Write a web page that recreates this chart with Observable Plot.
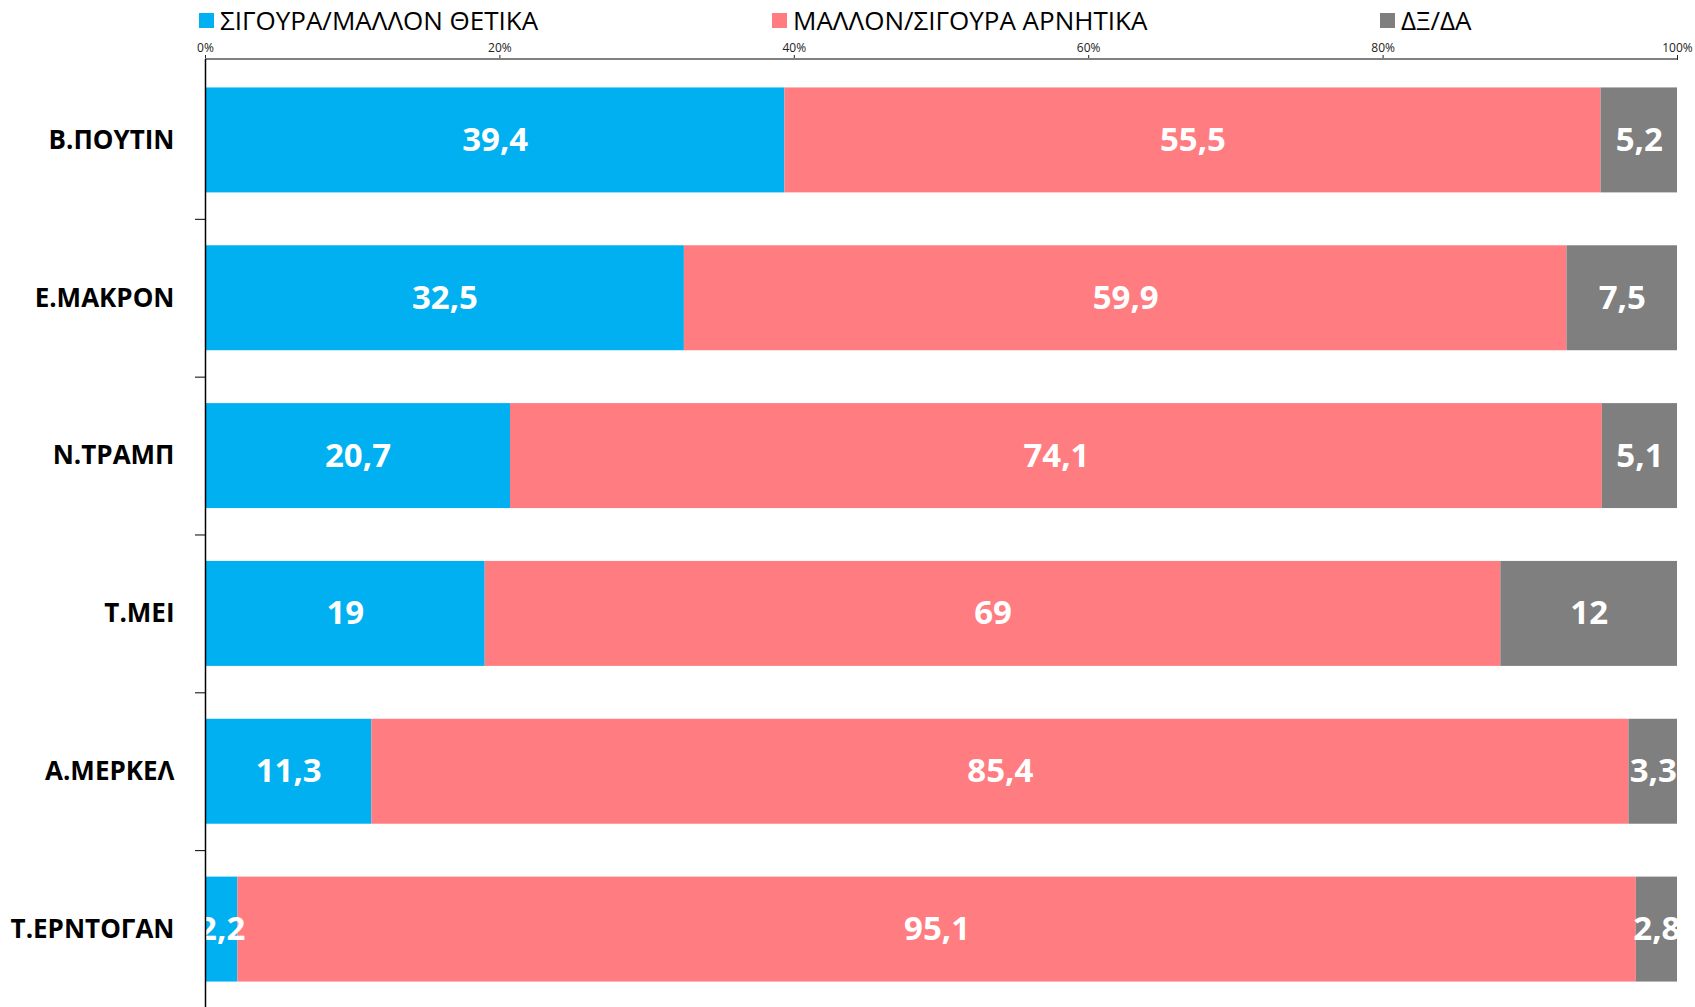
<!DOCTYPE html>
<html>
<head>
<meta charset="utf-8">
<script src="https://cdn.jsdelivr.net/npm/d3@7"></script>
<script src="https://cdn.jsdelivr.net/npm/@observablehq/plot@0.6"></script>
<style>
  html, body { margin: 0; padding: 0; background: #fff; overflow: hidden; }
  #wrap { position: relative; width: 1695px; height: 1007px; font-family: "Open Sans", sans-serif; }
  .leg { position: absolute; top: 4px; height: 32px; display: flex; align-items: center; font-size: 26px; color: #000; white-space: nowrap; }
  .leg span.sw { display: inline-block; width: 15px; height: 15px; margin-right: 6px; }
  #chart { position: absolute; top: 0; left: 0; }
</style>
</head>
<body>
<div id="wrap">
  <div id="chart"></div>
  <div id="legend"></div>
</div>
<script>
const names = ["Β.ΠΟΥΤΙΝ", "Ε.ΜΑΚΡΟΝ", "Ν.ΤΡΑΜΠ", "Τ.ΜΕΙ", "Α.ΜΕΡΚΕΛ", "Τ.ΕΡΝΤΟΓΑΝ"];
const categories = ["ΣΙΓΟΥΡΑ/ΜΑΛΛΟΝ ΘΕΤΙΚΑ", "ΜΑΛΛΟΝ/ΣΙΓΟΥΡΑ ΑΡΝΗΤΙΚΑ", "ΔΞ/ΔΑ"];
const positive = [39.4, 32.5, 20.7, 19, 11.3, 2.2];
const negative = [55.5, 59.9, 74.1, 69, 85.4, 95.1];
const dkna = [5.2, 7.5, 5.1, 12, 3.3, 2.8];
const colors = ["#00B0F0", "#FF7C80", "#7F7F7F"];
const xTicks = [0, 0.2, 0.4, 0.6, 0.8, 1];

const series = [positive, negative, dkna];
const data = [];
names.forEach((n, i) => {
  categories.forEach((c, j) => data.push({name: n, cat: c, value: series[j][i]}));
});
const fmt = v => String(v).replace(".", ",");

const legendLeft = [199, 772, 1380];
const legend = document.getElementById("legend");
categories.forEach((c, j) => {
  const d = document.createElement("div");
  d.className = "leg";
  d.style.left = legendLeft[j] + "px";
  d.innerHTML = `<span class="sw" style="background:${colors[j]}"></span>${c}`;
  legend.appendChild(d);
});

const chart = Plot.plot({
  width: 1695,
  height: 1007,
  marginTop: 59,
  marginBottom: 0,
  marginLeft: 205,
  marginRight: 18,
  style: {fontFamily: "Open Sans, sans-serif", background: "transparent"},
  x: {domain: [0, 1], axis: null, label: null},
  y: {domain: names, range: [61, 1008], round: false, paddingInner: 0.335, paddingOuter: 0.1675, axis: null, label: null},
  color: {domain: categories, range: colors},
  marks: [
    Plot.barX(data, Plot.stackX({x: "value", y: "name", fill: "cat", z: "cat", offset: "normalize"})),
    Plot.text(data, Plot.stackX({
      x: "value", y: "name", z: "cat", offset: "normalize",
      text: d => fmt(d.value), fill: "white", fontSize: 33, fontWeight: "bold", clip: true
    })),
    Plot.axisX({anchor: "top", label: null, ticks: xTicks, tickFormat: d3.format(".0%"), tickSize: 5, tickPadding: 3, fontSize: 12, color: "#222"}),
    (index, scales, values, dims) => {
      const ln = document.createElementNS("http://www.w3.org/2000/svg", "line");
      ln.setAttribute("x1", scales.x(0));
      ln.setAttribute("x2", scales.x(1));
      ln.setAttribute("y1", dims.marginTop);
      ln.setAttribute("y2", dims.marginTop);
      ln.setAttribute("stroke", "#808080");
      ln.setAttribute("stroke-width", 2);
      return ln;
    },
    Plot.axisY({anchor: "left", label: null, tickSize: 0, tickPadding: 31, fontSize: 26, fontWeight: "bold", color: "#000"}),
    Plot.ruleY(names.slice(0, -1), {y: d => d, x1: -0.0068, x2: 0, dy: 78.9, stroke: "#000", strokeWidth: 1}),
    Plot.ruleX([0], {stroke: "#000", strokeWidth: 1.5})
  ]
});
document.getElementById("chart").appendChild(chart);
</script>
</body>
</html>
